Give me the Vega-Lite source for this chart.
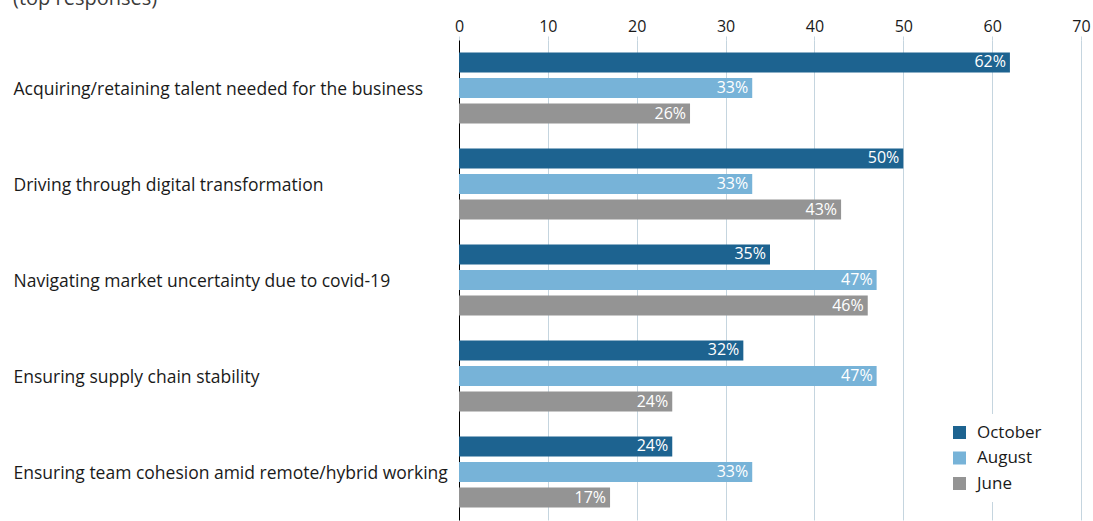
{
  "$schema": "https://vega.github.io/schema/vega-lite/v6.json",
  "autosize": {"type": "none"},
  "width": 622,
  "height": 480,
  "padding": {"left": 459, "top": 40, "right": 12, "bottom": 1},
  "background": "white",
  "title": {
    "text": "(top responses)",
    "anchor": "start",
    "frame": "bounds",
    "fontSize": 20,
    "font": "Open Sans",
    "fontWeight": "normal",
    "color": "#3a3a3a",
    "dy": -5
  },
  "config": {
    "font": "Open Sans",
    "view": {"stroke": null}
  },
  "data": {
    "values": [
      {"category": "Acquiring/retaining talent needed for the business", "month": "October", "value": 62, "label": "62%"},
      {"category": "Acquiring/retaining talent needed for the business", "month": "August", "value": 33, "label": "33%"},
      {"category": "Acquiring/retaining talent needed for the business", "month": "June", "value": 26, "label": "26%"},
      {"category": "Driving through digital transformation", "month": "October", "value": 50, "label": "50%"},
      {"category": "Driving through digital transformation", "month": "August", "value": 33, "label": "33%"},
      {"category": "Driving through digital transformation", "month": "June", "value": 43, "label": "43%"},
      {"category": "Navigating market uncertainty due to covid-19", "month": "October", "value": 35, "label": "35%"},
      {"category": "Navigating market uncertainty due to covid-19", "month": "August", "value": 47, "label": "47%"},
      {"category": "Navigating market uncertainty due to covid-19", "month": "June", "value": 46, "label": "46%"},
      {"category": "Ensuring supply chain stability", "month": "October", "value": 32, "label": "32%"},
      {"category": "Ensuring supply chain stability", "month": "August", "value": 47, "label": "47%"},
      {"category": "Ensuring supply chain stability", "month": "June", "value": 24, "label": "24%"},
      {"category": "Ensuring team cohesion amid remote/hybrid working", "month": "October", "value": 24, "label": "24%"},
      {"category": "Ensuring team cohesion amid remote/hybrid working", "month": "August", "value": 33, "label": "33%"},
      {"category": "Ensuring team cohesion amid remote/hybrid working", "month": "June", "value": 17, "label": "17%"}
    ]
  },
  "encoding": {
    "y": {
      "field": "category",
      "type": "nominal",
      "sort": null,
      "scale": {"paddingInner": 0, "paddingOuter": 0},
      "axis": {
        "title": null,
        "ticks": false,
        "tickSize": 0,
        "labelAlign": "left",
        "labelPadding": 446,
        "labelOffset": 2,
        "labelFontSize": 17.5,
        "labelColor": "#1a1a1a",
        "labelLimit": 500,
        "domainColor": "#000000",
        "domainWidth": 1,
        "grid": false
      }
    },
    "yOffset": {
      "field": "month",
      "type": "nominal",
      "sort": ["October", "August", "June"],
      "scale": {"paddingInner": 0.22, "paddingOuter": 0.485}
    },
    "x": {
      "field": "value",
      "type": "quantitative",
      "scale": {"domain": [0, 70], "nice": false},
      "axis": {
        "orient": "top",
        "title": null,
        "values": [0, 10, 20, 30, 40, 50, 60, 70],
        "domain": false,
        "ticks": true,
        "tickSize": 4,
        "tickColor": "#c5d5df",
        "labelPadding": 2,
        "labelFlush": false,
        "labelFontSize": 16,
        "labelColor": "#1a1a1a",
        "grid": true,
        "gridColor": "#c5d5df",
        "gridWidth": 1
      }
    }
  },
  "layer": [
    {
      "mark": {"type": "bar"},
      "encoding": {
        "color": {
          "field": "month",
          "type": "nominal",
          "sort": ["October", "August", "June"],
          "scale": {"domain": ["October", "August", "June"], "range": ["#1d6390", "#77b3d8", "#949494"]},
          "legend": {
            "title": null,
            "orient": "none",
            "legendX": 482,
            "legendY": 374,
            "symbolType": "square",
            "symbolSize": 169,
            "symbolStrokeWidth": 0,
            "labelFontSize": 17,
            "labelColor": "#1a1a1a",
            "labelOffset": 9,
            "rowPadding": 7.5,
            "fillColor": "white",
            "padding": 10
          }
        }
      }
    },
    {
      "mark": {"type": "text", "align": "right", "baseline": "middle", "dx": -4, "fontSize": 16, "color": "white"},
      "encoding": {
        "text": {"field": "label", "type": "nominal"}
      }
    }
  ]
}
